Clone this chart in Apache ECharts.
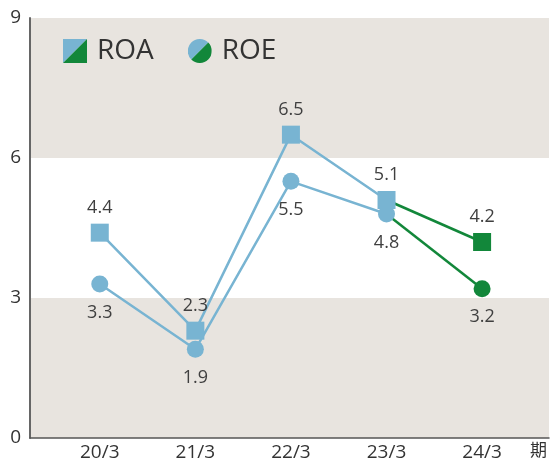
<!DOCTYPE html>
<html lang="ja">
<head>
    <meta charset="UTF-8">
    <title>ROA / ROE</title>
    <script src="https://cdn.jsdelivr.net/npm/echarts@6/dist/echarts.min.js"></script>
    <style>
        html, body { margin: 0; padding: 0; background: #fff; }
        #main { width: 550px; height: 466px; }
    </style>
</head>
<body>
<div id="main"></div>
<script>
    // 期
    const categories = ['20/3', '21/3', '22/3', '23/3', '24/3'];
    const roa = [4.4, 2.3, 6.5, 5.1, 4.2];
    const roe = [3.3, 1.9, 5.5, 4.8, 3.2];
    const yTicks = [0, 3, 6, 9];

    const BLUE = '#78b4d2';
    const GREEN = '#12873a';
    const FONT = '"Open Sans", "Noto Sans CJK JP", sans-serif';

    // 凡例アイコン（左上が青、右下が緑）
    function svgIcon(body) {
        return 'image://data:image/svg+xml;charset=utf-8,' + encodeURIComponent(
            '<svg xmlns="http://www.w3.org/2000/svg" width="24" height="24" viewBox="0 0 24 24">' + body + '</svg>');
    }
    const squareIcon = svgIcon(
        '<polygon points="0,0 24,0 0,24" fill="' + BLUE + '"/>' +
        '<polygon points="24,0 24,24 0,24" fill="' + GREEN + '"/>');
    const circleIcon = svgIcon(
        '<path d="M20.49 3.51 A12 12 0 0 0 3.51 20.49 Z" fill="' + BLUE + '"/>' +
        '<path d="M3.51 20.49 A12 12 0 0 0 20.49 3.51 Z" fill="' + GREEN + '"/>');

    const last = categories.length - 1;
    const toPts = (arr, from, to) => arr.slice(from, to + 1).map((v, i) => [from + i, v]);

    function lineSeries(name, data, color, symbol, labelPos, labelDist, z) {
        return {
            name: name,
            type: 'line',
            data: data,
            symbol: symbol,
            symbolSize: symbol === 'rect' ? 18 : 17,
            lineStyle: { color: color, width: 2.5 },
            itemStyle: { color: color },
            z: z,
            label: {
                show: true,
                position: labelPos,
                distance: labelDist,
                color: '#3f3f3f',
                fontSize: 18,
                fontFamily: FONT,
                formatter: p => p.value[1].toFixed(1)
            },
            emphasis: { disabled: true }
        };
    }

    // 24/3 の部分だけ緑
    function greenPart(arr) {
        return [
            { value: [last - 1, arr[last - 1]], symbol: 'none', label: { show: false } },
            { value: [last, arr[last]] }
        ];
    }

    let myChart = echarts.init(document.getElementById('main'));

    let option = {
        animation: false,
        backgroundColor: '#fff',
        grid: { left: 30, right: 0, top: 18, bottom: 28 },
        legend: {
            left: 58,
            top: 32,
            itemWidth: 24,
            itemHeight: 24,
            itemGap: 34,
            textStyle: { fontSize: 28, color: '#333', fontFamily: FONT, padding: [0, 0, 0, 5] },
            data: [
                { name: 'ROA', icon: squareIcon },
                { name: 'ROE', icon: circleIcon }
            ]
        },
        xAxis: {
            type: 'value',
            min: -0.73,
            max: 4.7,
            splitLine: { show: false },
            axisTick: { show: false },
            axisLine: { show: true, lineStyle: { color: '#555', width: 1.5 } },
            axisLabel: {
                customValues: categories.map((c, i) => i),
                formatter: v => categories[v],
                fontSize: 19,
                color: '#333',
                fontFamily: FONT,
                margin: 5
            },
            name: '期',
            nameLocation: 'end',
            nameGap: -19,
            nameTextStyle: {
                fontSize: 17,
                color: '#333',
                fontFamily: FONT,
                align: 'left',
                verticalAlign: 'top',
                padding: [5, 0, 0, 0]
            }
        },
        yAxis: {
            type: 'value',
            min: yTicks[0],
            max: yTicks[yTicks.length - 1],
            interval: 3,
            splitLine: { show: false },
            splitArea: { show: true, areaStyle: { color: ['#e8e4df', '#ffffff', '#e8e4df'] } },
            axisTick: { show: false },
            axisLine: { show: true, onZero: false, lineStyle: { color: '#666', width: 2 } },
            axisLabel: { fontSize: 19, color: '#333', fontFamily: FONT, margin: 9 }
        },
        series: [
            lineSeries('ROA', greenPart(roa), GREEN, 'rect', 'top', 7, 2),
            lineSeries('ROE', greenPart(roe), GREEN, 'circle', 'bottom', 11, 2),
            lineSeries('ROE', toPts(roe, 0, last - 1), BLUE, 'circle', 'bottom', 11, 3),
            lineSeries('ROA', toPts(roa, 0, last - 1), BLUE, 'rect', 'top', 7, 4)
        ]
    };

    myChart.setOption(option);
</script>
</body>
</html>
